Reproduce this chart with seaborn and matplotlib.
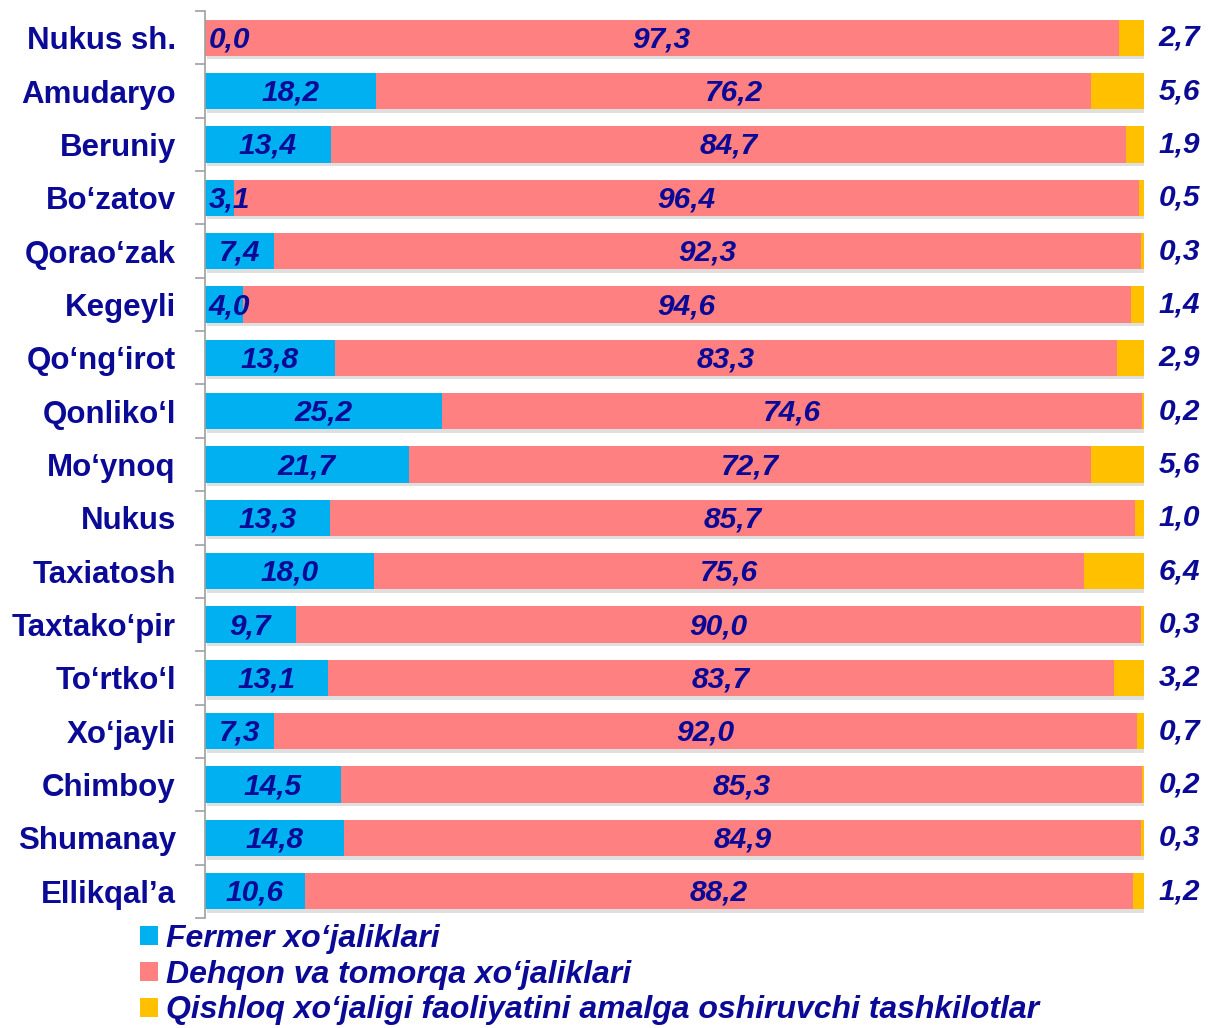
import matplotlib
matplotlib.use("Agg")
import matplotlib.pyplot as plt
import matplotlib.patheffects as pe
from matplotlib.patches import Patch
import seaborn as sns
import pandas as pd

# =====================================================
# Données
# =====================================================

regions = [
    "Nukus sh.", "Amudaryo", "Beruniy", "Bo\u2018zatov", "Qorao\u2018zak",
    "Kegeyli", "Qo\u2018ng\u2018irot", "Qonliko\u2018l", "Mo\u2018ynoq", "Nukus",
    "Taxiatosh", "Taxtako\u2018pir", "To\u2018rtko\u2018l", "Xo\u2018jayli",
    "Chimboy", "Shumanay", "Ellikqal\u2019a",
]

fermer = [0.0, 18.2, 13.4, 3.1, 7.4, 4.0, 13.8, 25.2, 21.7, 13.3, 18.0,
          9.7, 13.1, 7.3, 14.5, 14.8, 10.6]
dehqon = [97.3, 76.2, 84.7, 96.4, 92.3, 94.6, 83.3, 74.6, 72.7, 85.7, 75.6,
          90.0, 83.7, 92.0, 85.3, 84.9, 88.2]
tashkilot = [2.7, 5.6, 1.9, 0.5, 0.3, 1.4, 2.9, 0.2, 5.6, 1.0, 6.4,
             0.3, 3.2, 0.7, 0.2, 0.3, 1.2]

series_names = [
    "Fermer xo\u2018jaliklari",
    "Dehqon va tomorqa xo\u2018jaliklari",
    "Qishloq xo\u2018jaligi faoliyatini amalga oshiruvchi tashkilotlar",
]

df = pd.DataFrame({"region": regions, "fermer": fermer,
                   "dehqon": dehqon, "tashkilot": tashkilot})
df["cum1"] = df["fermer"]
df["cum2"] = df["fermer"] + df["dehqon"]
df["cum3"] = df["cum2"] + df["tashkilot"]

# =====================================================
# Style
# =====================================================

BLUE = "#00B0F0"
PINK = "#FF8080"
YELLOW = "#FFC000"
NAVY = "#0A0A96"

sns.set_style("white")
plt.rcParams["font.family"] = ["Liberation Sans", "DejaVu Sans"]

fig = plt.figure(figsize=(12.09, 10.28), dpi=100)
ax = fig.add_axes([205 / 1209, 1 - 918 / 1028, 939 / 1209, 907 / 1028])

# =====================================================
# Barres empilées (du total vers la première série)
# =====================================================

sns.barplot(data=df, x="cum3", y="region", order=regions, orient="h",
            color=YELLOW, saturation=1, width=0.68, linewidth=0, ax=ax)
for patch in list(ax.patches):
    patch.set_path_effects([
        pe.SimplePatchShadow(offset=(1.5, -2.5), shadow_rgbFace="0.5", alpha=0.25),
        pe.Normal(),
    ])
sns.barplot(data=df, x="cum2", y="region", order=regions, orient="h",
            color=PINK, saturation=1, width=0.68, linewidth=0, ax=ax)
sns.barplot(data=df, x="cum1", y="region", order=regions, orient="h",
            color=BLUE, saturation=1, width=0.68, linewidth=0, ax=ax)

ax.set_xlim(0, 100)
ax.set_ylim(len(regions) - 0.5, -0.5)

# =====================================================
# Étiquettes des valeurs
# =====================================================

def fmt(v):
    return f"{v:.1f}".replace(".", ",")

label_kw = dict(color=NAVY, fontsize=21.5, fontweight="bold", fontstyle="italic",
                va="center", ha="center", clip_on=False)

for i in range(len(regions)):
    b, p, t = fermer[i], dehqon[i], tashkilot[i]
    ax.text(max(b / 2, 2.6), i + 0.03, fmt(b), **label_kw)
    ax.text(b + p / 2, i + 0.03, fmt(p), **label_kw)
    ax.text(103.8, i, fmt(t), **label_kw)

# =====================================================
# Axes
# =====================================================

ax.set_xlabel("")
ax.set_ylabel("")
ax.set_xticks([])
for side in ["top", "right", "bottom"]:
    ax.spines[side].set_visible(False)
ax.spines["left"].set_color("#A0A0A0")
ax.spines["left"].set_linewidth(1.2)

ax.set_yticks(range(len(regions)))
ax.set_yticklabels(regions)
ax.set_yticks([i - 0.5 for i in range(len(regions) + 1)], minor=True)
ax.tick_params(axis="y", which="major", length=0, pad=21,
               labelsize=22.5, labelcolor=NAVY)
ax.tick_params(axis="y", which="minor", length=7, width=1.2,
               color="#A0A0A0", direction="out", left=True)
for lbl in ax.get_yticklabels():
    lbl.set_fontweight("bold")

# =====================================================
# Légende
# =====================================================

handles = [Patch(facecolor=c, edgecolor="none") for c in (BLUE, PINK, YELLOW)]
fig.legend(handles, series_names, loc="upper left",
           bbox_to_anchor=(124 / 1209, 1 - 908 / 1028),
           frameon=False, handlelength=0.55, handleheight=0.55,
           handletextpad=0.25, labelspacing=0.18, borderpad=0,
           prop=dict(weight="bold", style="italic", size=23),
           labelcolor=NAVY)

fig.savefig("out.png", dpi=100)
